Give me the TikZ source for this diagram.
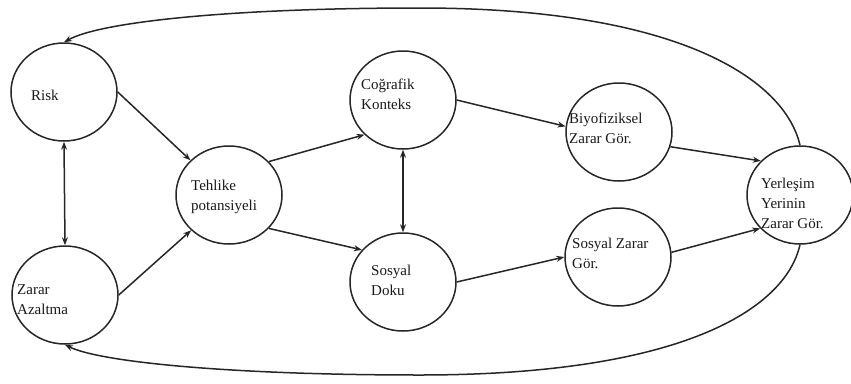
\documentclass[tikz,border=0pt]{standalone}
\usepackage{fontspec}
\setmainfont{Liberation Serif}
\usetikzlibrary{shapes.geometric,arrows.meta}
\begin{document}
\begin{tikzpicture}[x=1pt,y=-1pt,
  bubble/.style={draw=black!85,line width=1.5pt,ellipse,minimum width=106pt,minimum height=98pt,inner sep=0pt},
  lbl/.style={anchor=west,align=left,inner sep=0pt,text=black!90,font=\fontsize{15}{20}\selectfont},
  link/.style={draw=black!85,line width=1.5pt,-{Stealth[length=8pt,width=6pt]}},
  twoway/.style={draw=black!85,line width=1.5pt,{Stealth[length=8pt,width=6pt]}-{Stealth[length=8pt,width=6pt]}}]
\useasboundingbox (0,0) rectangle (851,383);
% circles
\node[bubble] (risk) at (64,92) {};
\node[bubble] (zarar) at (65,295) {};
\node[bubble] (tehlike) at (229,195) {};
\node[bubble] (cograf) at (403,100) {};
\node[bubble] (doku) at (403,282) {};
\node[bubble] (biyo) at (619,132) {};
\node[bubble] (szarar) at (618,257) {};
\node[bubble] (yer) at (800,195) {};
% labels
\node[lbl] at (31,95) {Risk};
\node[lbl] at (17,300) {Zarar\\Azaltma};
\node[lbl] at (191,197) {Tehlike\\potansiyeli};
\node[lbl] at (361,94) {Coğrafik\\Konteks};
\node[lbl] at (371,280) {Sosyal\\Doku};
\node[lbl] at (569,128) {Biyofiziksel\\Zarar Gör.};
\node[lbl] at (572,253) {Sosyal Zarar\\Gör.};
\node[lbl] at (761,203) {Yerleşim\\Yerinin\\Zarar Gör.};
% connectors
\draw[link] (risk.east) -- (tehlike.138);
\draw[link] (zarar.east) -- (tehlike.223);
\draw[twoway] (risk.south) -- (zarar.north);
\draw[link] (tehlike.40) -- (cograf.222);
\draw[link] (tehlike.-40) -- (doku.142);
\draw[twoway] (cograf.south) -- (doku.north);
\draw[link] (cograf.east) -- (biyo.174);
\draw[link] (doku.east) -- (szarar.west);
\draw[link] (biyo.-16) -- (yer.139);
\draw[link] (szarar.5) -- (yer.220);
% feedback loops
\draw[link] (yer.north) .. controls (785,80) and (680,8) .. (420,8)
  .. controls (230,8) and (100,22) .. (risk.north);
\draw[link] (yer.south) .. controls (785,310) and (680,375) .. (420,375)
  .. controls (230,375) and (100,362) .. (zarar.south);
\end{tikzpicture}
\end{document}
